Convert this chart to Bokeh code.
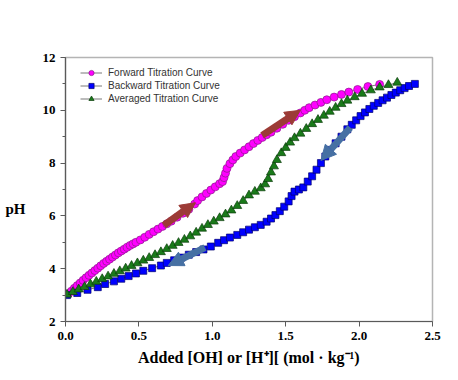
from bokeh.plotting import figure
from bokeh.models import (Legend, LegendItem, Arrow, NormalHead, ColumnDataSource,
                          FixedTicker, SingleIntervalTicker, Label, Range1d)
from bokeh.embed import file_html
from bokeh.resources import INLINE

# ---------------- data ----------------
fwd_x = [0.02, 0.04, 0.06, 0.08, 0.10, 0.12, 0.14, 0.16, 0.18, 0.20, 0.22, 0.24, 0.26,
         0.28, 0.30, 0.32, 0.34, 0.36, 0.38, 0.40, 0.42, 0.44, 0.46, 0.48, 0.51, 0.54,
         0.57, 0.60, 0.63, 0.66, 0.69, 0.72, 0.76, 0.80, 0.84, 0.88, 0.90, 0.93, 0.96,
         0.99, 1.02, 1.05, 1.07, 1.08, 1.09, 1.10, 1.12, 1.14, 1.16, 1.19, 1.22, 1.25,
         1.28, 1.31, 1.34, 1.37, 1.40, 1.44, 1.48, 1.52, 1.56, 1.60, 1.63, 1.66, 1.70,
         1.74, 1.78, 1.83, 1.88, 1.93, 1.99, 2.06, 2.14]
fwd_ph = [3.05, 3.15, 3.26, 3.36, 3.46, 3.56, 3.66, 3.75, 3.84, 3.93, 4.02, 4.11, 4.20,
          4.28, 4.36, 4.44, 4.52, 4.60, 4.67, 4.74, 4.81, 4.88, 4.94, 5.00, 5.09, 5.19,
          5.30, 5.40, 5.50, 5.60, 5.70, 5.80, 5.95, 6.10, 6.25, 6.45, 6.58, 6.72, 6.85,
          6.98, 7.10, 7.22, 7.30, 7.45, 7.62, 7.80, 7.98, 8.12, 8.25, 8.38, 8.50, 8.62,
          8.74, 8.86, 8.97, 9.07, 9.17, 9.32, 9.47, 9.62, 9.76, 9.90, 10.00, 10.10, 10.20,
          10.30, 10.40, 10.50, 10.60, 10.69, 10.79, 10.90, 10.98]

bwd_x = [0.01, 0.08, 0.15, 0.22, 0.27, 0.33, 0.38, 0.43, 0.48, 0.53, 0.59, 0.65, 0.69,
         0.74, 0.79, 0.84, 0.89, 0.94, 0.99, 1.04, 1.08, 1.12, 1.17, 1.21, 1.25, 1.29,
         1.33, 1.37, 1.40, 1.43, 1.46, 1.49, 1.52, 1.54, 1.56, 1.59, 1.62, 1.65, 1.68,
         1.71, 1.74, 1.77, 1.80, 1.84, 1.88, 1.92, 1.95, 1.98, 2.01, 2.04, 2.07, 2.10,
         2.13, 2.16, 2.19, 2.22, 2.25, 2.28, 2.31, 2.34, 2.38]
bwd_ph = [3.00, 3.08, 3.20, 3.30, 3.42, 3.52, 3.62, 3.72, 3.82, 3.92, 4.02, 4.12, 4.22,
          4.32, 4.42, 4.53, 4.63, 4.73, 4.84, 4.98, 5.08, 5.18, 5.28, 5.38, 5.48, 5.57,
          5.66, 5.78, 5.90, 6.03, 6.18, 6.35, 6.55, 6.75, 6.92, 7.00, 7.08, 7.30, 7.50,
          7.75, 8.00, 8.25, 8.50, 8.75, 9.00, 9.28, 9.45, 9.62, 9.78, 9.92, 10.05, 10.17,
          10.28, 10.38, 10.48, 10.58, 10.67, 10.76, 10.84, 10.92, 11.00]

avg_x = [0.01, 0.05, 0.09, 0.13, 0.17, 0.21, 0.25, 0.29, 0.33, 0.37, 0.41, 0.45, 0.49,
         0.53, 0.57, 0.61, 0.65, 0.69, 0.73, 0.77, 0.81, 0.85, 0.89, 0.93, 0.97, 1.01,
         1.05, 1.09, 1.13, 1.17, 1.21, 1.25, 1.29, 1.33, 1.36, 1.38, 1.40, 1.42, 1.44,
         1.47, 1.50, 1.53, 1.56, 1.60, 1.64, 1.68, 1.72, 1.76, 1.80, 1.84, 1.88, 1.92,
         1.97, 2.02, 2.08, 2.14, 2.20, 2.26]
avg_ph = [3.02, 3.12, 3.22, 3.31, 3.41, 3.51, 3.61, 3.71, 3.81, 3.91, 4.01, 4.11, 4.21,
          4.31, 4.41, 4.52, 4.63, 4.75, 4.87, 4.98, 5.10, 5.23, 5.37, 5.52, 5.66, 5.79,
          5.92, 6.06, 6.21, 6.38, 6.57, 6.78, 6.92, 7.05, 7.20, 7.40, 7.65, 7.88, 8.12,
          8.38, 8.58, 8.78, 8.95, 9.12, 9.30, 9.48, 9.64, 9.80, 9.95, 10.10, 10.24, 10.37,
          10.50, 10.63, 10.76, 10.87, 10.96, 11.05]

series_names = ["Forward Titration Curve", "Backward Titration Curve", "Averaged Titration Curve"]

# direction arrows (start -> end, data units)
fwd_arrow_x0 = [0.67, 1.34]
fwd_arrow_y0 = [5.64, 9.05]
fwd_arrow_x1 = [0.885, 1.60]
fwd_arrow_y1 = [6.50, 10.00]
bwd_arrow_x0 = [0.95, 1.94]
bwd_arrow_y0 = [4.80, 9.35]
bwd_arrow_x1 = [0.70, 1.74]
bwd_arrow_y1 = [4.12, 8.10]

x_ticks = [0.0, 0.5, 1.0, 1.5, 2.0, 2.5]
x_tick_labels = ["0.0", "0.5", "1.0", "1.5", "2.0", "2.5"]

x_label = "Added [OH] or [H\u207a][ (mol \u00b7 kg\u207b\u00b9)"
y_label = "pH"

SERIF = "Liberation Serif"

# ---------------- figure ----------------
p = figure(width=458, height=380, output_backend="svg", toolbar_location=None,
           x_range=Range1d(0, 2.5), y_range=Range1d(2, 12),
           min_border_left=65, min_border_right=26, min_border_top=57, min_border_bottom=59)
p.background_fill_color = "white"
p.border_fill_color = "white"
p.xgrid.visible = False
p.ygrid.visible = False
p.outline_line_color = "#b4b4b4"
p.outline_line_width = 1.5

# axes
p.xaxis.ticker = FixedTicker(ticks=x_ticks)
p.xaxis.major_label_overrides = {t: l for t, l in zip(x_ticks, x_tick_labels)}
p.yaxis.ticker = SingleIntervalTicker(interval=2, num_minor_ticks=2)
p.axis.axis_line_color = "#5a5a5a"
p.axis.axis_line_width = 1.2
p.axis.major_tick_line_color = "#5a5a5a"
p.axis.minor_tick_line_color = "#5a5a5a"
p.axis.major_tick_out = 5
p.axis.major_tick_in = 0
p.axis.minor_tick_out = 3
p.axis.minor_tick_in = 0
p.axis.major_label_text_font = SERIF
p.axis.major_label_text_font_style = "bold"
p.axis.major_label_text_font_size = "13px"
p.axis.major_label_text_color = "black"
p.axis.major_label_standoff = 5
p.xaxis.minor_tick_line_color = None
p.xaxis.axis_label = x_label
p.xaxis.axis_label_text_font = SERIF
p.xaxis.axis_label_text_font_style = "bold"
p.xaxis.axis_label_text_font_size = "16px"
p.xaxis.axis_label_text_color = "black"
p.xaxis.axis_label_standoff = 6

yax = p.yaxis[0]
yax.axis_label = "\n\n" + y_label
yax.axis_label_orientation = "horizontal"
yax.axis_label_text_font = SERIF
yax.axis_label_text_font_style = "bold"
yax.axis_label_text_font_size = "15px"
yax.axis_label_text_color = "black"
yax.axis_label_standoff = 14

# series
line_col = "#555555"
l1 = p.line(fwd_x, fwd_ph, line_color=line_col, line_width=0.8)
s1 = p.scatter(fwd_x, fwd_ph, marker="circle", size=8, fill_color="#ff00ff",
               line_color="#8a1c8a", line_width=0.7)
l2 = p.line(bwd_x, bwd_ph, line_color=line_col, line_width=0.8)
s2 = p.scatter(bwd_x, bwd_ph, marker="square", size=7, fill_color="#0000ff",
               line_color="#00006e", line_width=0.7)
l3 = p.line(avg_x, avg_ph, line_color=line_col, line_width=0.8)
s3 = p.scatter(avg_x, avg_ph, marker="triangle", size=9, fill_color="#1a7a1a",
               line_color="#0b3d0b", line_width=0.7)

# arrows
fsrc = ColumnDataSource(dict(x0=fwd_arrow_x0, y0=fwd_arrow_y0, x1=fwd_arrow_x1, y1=fwd_arrow_y1))
bsrc = ColumnDataSource(dict(x0=bwd_arrow_x0, y0=bwd_arrow_y0, x1=bwd_arrow_x1, y1=bwd_arrow_y1))
p.add_layout(Arrow(source=fsrc, x_start="x0", y_start="y0", x_end="x1", y_end="y1",
                   line_color="#9c3b36", line_width=7,
                   end=NormalHead(size=15, fill_color="#9c3b36", line_color="#9c3b36")))
p.add_layout(Arrow(source=bsrc, x_start="x0", y_start="y0", x_end="x1", y_end="y1",
                   line_color="#4670a3", line_width=7,
                   end=NormalHead(size=15, fill_color="#4670a3", line_color="#4670a3")))

legend = Legend(items=[LegendItem(label=series_names[0], renderers=[l1, s1]),
                       LegendItem(label=series_names[1], renderers=[l2, s2]),
                       LegendItem(label=series_names[2], renderers=[l3, s3])],
                location=(15, 216), padding=0, margin=0, spacing=0,
                glyph_width=22, glyph_height=13, label_height=13, label_standoff=6,
                label_text_font="Liberation Sans", label_text_font_size="10px",
                label_text_color="#333333", border_line_color=None,
                background_fill_alpha=0)
p.add_layout(legend)

open("out.html", "w").write(file_html(p, INLINE))
